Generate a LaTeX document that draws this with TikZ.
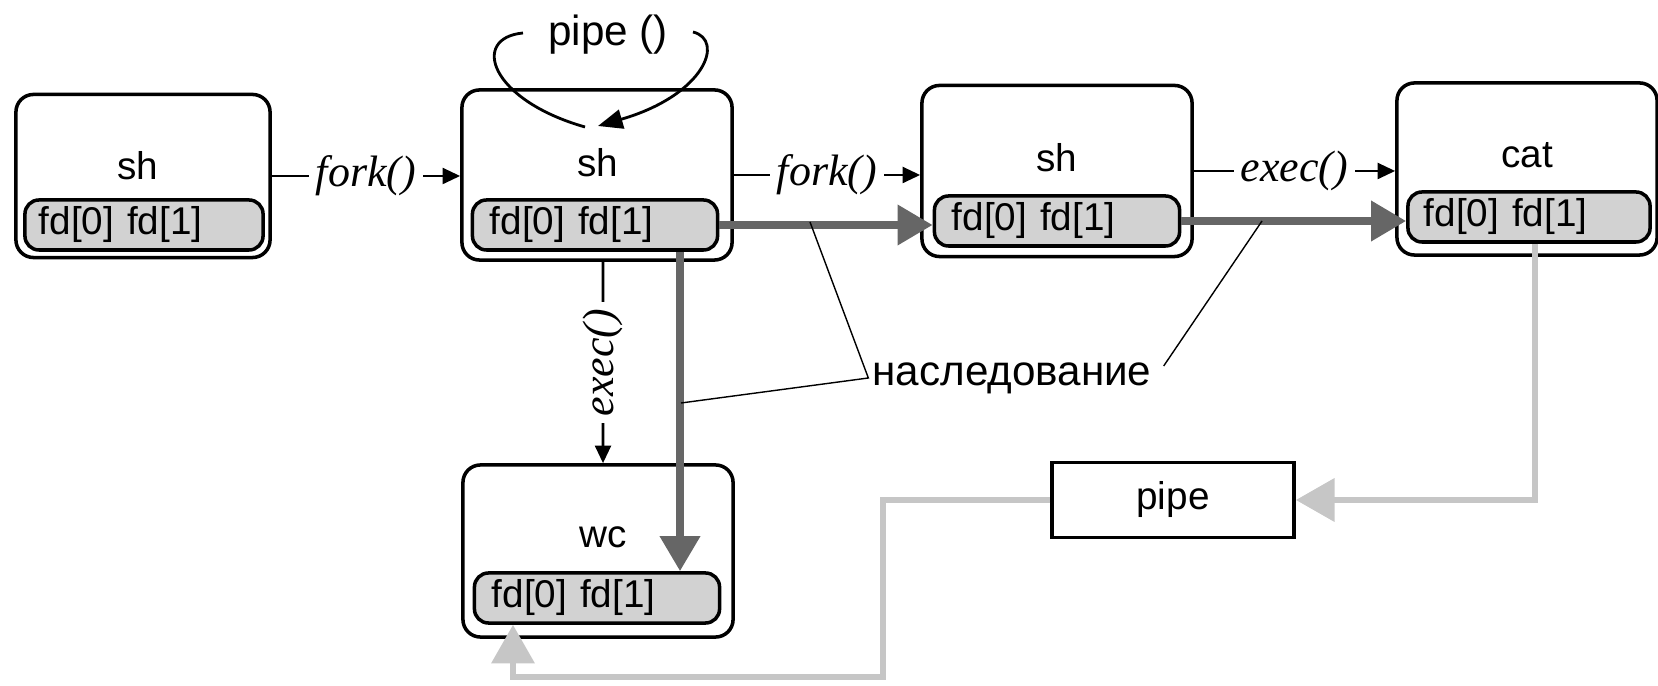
\documentclass[tikz,border=0pt]{standalone}
\usepackage{fontspec}
\setmainfont{Liberation Sans}
\newfontfamily\callfont{Liberation Serif}
\usetikzlibrary{arrows.meta}

\begin{document}
\begin{tikzpicture}[x=0.01cm,y=-0.01cm,
 proc/.style={draw,line width=1pt,rounded corners=5pt,minimum width=2.7cm,minimum height=1.7cm,inner sep=0pt},
 fdb/.style={draw,line width=1pt,rounded corners=4pt,fill=gray!35,minimum width=2.45cm,minimum height=0.5cm,
 inner sep=0pt,text width=2.1cm,align=left,font=\fontsize{11}{12}\selectfont},
 pn/.style={anchor=base,inner sep=0pt,font=\fontsize{11}{13}\selectfont},
 call/.style={-{Triangle[length=5pt,width=4.5pt]},line width=0.8pt},
 lbl/.style={fill=white,inner sep=2pt,font=\callfont\itshape\fontsize{12.5}{14}\selectfont},
 inher/.style={-{Triangle[length=10pt,width=11pt]},line width=2.3pt,black!60},
 pipeln/.style={-{Triangle[length=11pt,width=12pt]},line width=1.8pt,gray!45},
 lead/.style={line width=0.4pt}]
\useasboundingbox (0,0) rectangle (1658,686);
% processes
\node[proc,minimum width=2.54cm,minimum height=1.63cm] (sh1) at (143,176) {};
\node[pn] (sh1name) at (138,180) {sh};
\node[fdb,minimum width=2.38cm] (fd1) at (144,225) {fd[0] fd[1]};
\node[proc] (sh2) at (597,175) {};
\node[pn] (sh2name) at (598,177) {sh};
\node[fdb] (fd2) at (595,225) {fd[0] fd[1]};
\node[proc,minimum height=1.71cm] (sh3) at (1057,171) {};
\node[pn] (sh3name) at (1057,172) {sh};
\node[fdb] (fd3) at (1057,221) {fd[0] fd[1]};
\node[proc,minimum width=2.6cm,minimum height=1.72cm] (cat) at (1527,169) {};
\node[pn] (catname) at (1527,168) {cat};
\node[fdb,minimum width=2.42cm] (fd4) at (1529,217) {fd[0] fd[1]};
\node[proc,minimum height=1.72cm] (wc) at (598,551) {};
\node[pn] (wcname) at (603,548) {wc};
\node[fdb] (fd5) at (597,598) {fd[0] fd[1]};
\node[draw,line width=1pt,minimum width=2.42cm,minimum height=0.75cm,font=\fontsize{11}{13}\selectfont] (pipe) at (1173,500) {pipe};
% system calls
\draw[call] (sh1.east) -- node[lbl]{fork()} (sh1.east -| sh2.west);
\draw[call] (sh2.east) -- node[lbl]{fork()} (sh2.east -| sh3.west);
\draw[call] (sh3.east) -- node[lbl]{exec()} (sh3.east -| cat.west);
\draw[call] ([xshift=0.06cm]sh2.south) -- node[lbl,rotate=90]{exec()} ([xshift=0.05cm]wc.north);
\node[font=\fontsize{12}{14}\selectfont] (pipecall) at (608,35) {pipe ()};
\coordinate (lpS) at (523,33); \coordinate (lpA) at (585,127);
\coordinate (lpT) at (693,32); \coordinate (lpB) at (598,126);
\draw[line width=0.8pt] (lpS) .. controls (470,38) and (490,100) .. (lpA);
\draw[line width=0.8pt,-{Triangle[length=7pt,width=5.5pt]}] (lpT) .. controls (725,40) and (705,95) .. (lpB);
% inherited descriptors
\coordinate (dn) at (680,0);
\draw[inher] (fd2.east) -- (fd2.east -| fd3.west);
\draw[inher] (fd3.east) -- (fd3.east -| fd4.west);
\draw[inher] (fd2.south -| dn) -- (fd5.north -| dn);
% the pipe
\coordinate (catout) at (1535,0);
\coordinate (lowR) at (883,677); \coordinate (lowL) at (513,677);
\draw[pipeln] (fd4.south -| catout) |- (pipe.east);
\draw[pipeln] (pipe.west) -| (lowR) -- (lowL) -- (lowL |- fd5.south);
% annotation
\node[inner sep=1pt,font=\fontsize{12}{14}\selectfont] (inh) at (1012,378) {наследование};
\coordinate (ldA) at (810,222); \coordinate (ldB) at (681,403); \coordinate (ldC) at (1262,221);
\draw[lead] (ldA) -- (inh.west) -- (ldB);
\draw[lead] ([xshift=0.08cm,yshift=0.12cm]inh.east) -- (ldC);
\end{tikzpicture}
\end{document}
